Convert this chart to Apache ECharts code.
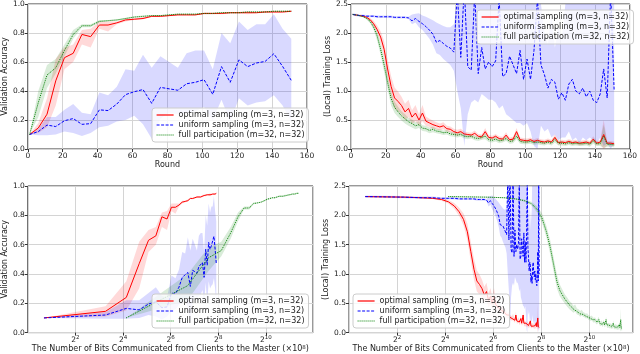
<!DOCTYPE html>
<html lang="en">
<head>
<meta charset="UTF-8">
<title>sampling curves</title>
<script src="https://cdn.jsdelivr.net/npm/echarts@6/dist/echarts.min.js"></script>
<style>html,body{margin:0;padding:0;background:#fff}</style>
</head>
<body>
<div id="main" style="width:640px;height:354px"></div>
<script>
// validation accuracy, measured every 5 rounds
var accRounds = [1, 6, 11, 16, 21, 26, 31, 36, 41, 46, 51, 56, 61, 66, 71, 76, 81, 86, 91, 96, 101, 106, 111, 116, 121, 126, 131, 136, 141, 146, 151];
var accOpt   = [0.10, 0.145, 0.24, 0.47, 0.63, 0.66, 0.79, 0.775, 0.855, 0.855, 0.87, 0.89, 0.895, 0.90, 0.915, 0.915, 0.92, 0.925, 0.925, 0.925, 0.935, 0.935, 0.935, 0.94, 0.94, 0.94, 0.94, 0.945, 0.945, 0.945, 0.95];
var accOptLo = [0.10, 0.11, 0.15, 0.30, 0.55, 0.60, 0.72, 0.70, 0.83, 0.81, 0.86, 0.88, 0.89, 0.895, 0.91, 0.91, 0.915, 0.92, 0.92, 0.92, 0.93, 0.93, 0.93, 0.935, 0.935, 0.93, 0.935, 0.94, 0.94, 0.94, 0.945];
var accOptHi = [0.10, 0.18, 0.35, 0.62, 0.70, 0.72, 0.82, 0.83, 0.88, 0.88, 0.88, 0.90, 0.90, 0.91, 0.92, 0.92, 0.925, 0.93, 0.93, 0.93, 0.94, 0.94, 0.94, 0.945, 0.945, 0.95, 0.945, 0.95, 0.95, 0.95, 0.955];
var accUni   = [0.10, 0.12, 0.165, 0.155, 0.195, 0.21, 0.17, 0.175, 0.27, 0.265, 0.31, 0.375, 0.395, 0.41, 0.315, 0.425, 0.415, 0.405, 0.45, 0.46, 0.478, 0.377, 0.568, 0.46, 0.615, 0.568, 0.593, 0.604, 0.657, 0.57, 0.473];
var accUniLo = [0.10, 0.095, 0.095, 0.10, 0.12, 0.11, 0.09, 0.11, 0.15, 0.16, 0.19, 0.20, 0.23, 0.17, 0.07, 0.21, 0.25, 0.24, 0.25, 0.26, 0.29, 0.20, 0.34, 0.19, 0.35, 0.30, 0.32, 0.33, 0.37, 0.30, 0.19];
var accUniHi = [0.10, 0.14, 0.22, 0.22, 0.27, 0.31, 0.25, 0.24, 0.39, 0.37, 0.43, 0.55, 0.54, 0.65, 0.56, 0.64, 0.60, 0.56, 0.66, 0.68, 0.68, 0.55, 0.80, 0.73, 0.88, 0.82, 0.86, 0.86, 0.93, 0.83, 0.76];
var accFull   = [0.10, 0.32, 0.51, 0.56, 0.68, 0.79, 0.85, 0.85, 0.88, 0.885, 0.89, 0.90, 0.91, 0.915, 0.92, 0.92, 0.925, 0.93, 0.93, 0.93, 0.935, 0.935, 0.94, 0.94, 0.94, 0.945, 0.945, 0.945, 0.95, 0.95, 0.95];
var accFullLo = [0.10, 0.22, 0.42, 0.52, 0.64, 0.76, 0.84, 0.84, 0.875, 0.88, 0.885, 0.895, 0.905, 0.91, 0.915, 0.915, 0.92, 0.925, 0.925, 0.925, 0.93, 0.93, 0.935, 0.935, 0.935, 0.94, 0.94, 0.94, 0.945, 0.945, 0.945];
var accFullHi = [0.10, 0.40, 0.58, 0.62, 0.72, 0.82, 0.86, 0.86, 0.89, 0.89, 0.895, 0.905, 0.915, 0.92, 0.925, 0.925, 0.93, 0.935, 0.935, 0.935, 0.94, 0.94, 0.945, 0.945, 0.945, 0.95, 0.95, 0.95, 0.955, 0.955, 0.955];

// (local) training loss, read every 2 rounds
var lossRounds = [1, 3, 5, 7, 9, 11, 13, 15, 17, 19, 21, 23, 25, 27, 29, 31, 33, 35, 37, 39,
  41, 43, 45, 47, 49, 51, 53, 55, 57, 59, 61, 63, 65, 67, 69, 71, 73, 75, 77, 79,
  81, 83, 85, 87, 89, 91, 93, 95, 97, 99, 101, 103, 105, 107, 109, 111, 113, 115, 117, 119,
  121, 123, 125, 127, 129, 131, 133, 135, 137, 139, 141, 143, 145, 147, 149, 151];
var lossOpt = [2.32, 2.31, 2.30, 2.29, 2.27, 2.23, 2.16, 2.06, 1.93, 1.72,
  1.38, 1.08, 0.88, 0.82, 0.75, 0.64, 0.70, 0.55, 0.62, 0.50,
  0.62, 0.48, 0.45, 0.42, 0.40, 0.38, 0.40, 0.35, 0.34, 0.30,
  0.28, 0.30, 0.26, 0.25, 0.24, 0.27, 0.22, 0.21, 0.30, 0.20,
  0.19, 0.22, 0.18, 0.17, 0.24, 0.16, 0.17, 0.30, 0.16, 0.15,
  0.14, 0.16, 0.13, 0.15, 0.13, 0.12, 0.14, 0.12, 0.20, 0.11,
  0.12, 0.11, 0.13, 0.11, 0.12, 0.10, 0.11, 0.12, 0.10, 0.17,
  0.10, 0.12, 0.25, 0.10, 0.10, 0.09];
var lossOptSpread = [0.01, 0.01, 0.01, 0.01, 0.02, 0.03, 0.05, 0.07, 0.10, 0.14,
  0.17, 0.18, 0.18, 0.17, 0.15, 0.14, 0.15, 0.12, 0.14, 0.10,
  0.14, 0.08, 0.07, 0.07, 0.06, 0.06, 0.06, 0.05, 0.05, 0.05,
  0.05, 0.05, 0.04, 0.04, 0.04, 0.05, 0.04, 0.04, 0.06, 0.04,
  0.04, 0.04, 0.04, 0.04, 0.05, 0.04, 0.04, 0.06, 0.04, 0.04,
  0.04, 0.04, 0.04, 0.04, 0.04, 0.04, 0.04, 0.04, 0.05, 0.04,
  0.04, 0.04, 0.04, 0.04, 0.04, 0.04, 0.04, 0.04, 0.04, 0.05,
  0.04, 0.04, 0.25, 0.04, 0.04, 0.04];
var lossFull = [2.32, 2.31, 2.30, 2.28, 2.25, 2.20, 2.10, 1.95, 1.72, 1.45,
  1.15, 0.87, 0.72, 0.64, 0.57, 0.52, 0.47, 0.44, 0.40, 0.42,
  0.36, 0.35, 0.32, 0.34, 0.31, 0.30, 0.28, 0.29, 0.26, 0.25,
  0.24, 0.25, 0.22, 0.21, 0.22, 0.19, 0.18, 0.20, 0.22, 0.16,
  0.15, 0.17, 0.14, 0.15, 0.18, 0.13, 0.14, 0.22, 0.13, 0.12,
  0.12, 0.13, 0.11, 0.12, 0.11, 0.10, 0.12, 0.10, 0.16, 0.10,
  0.10, 0.09, 0.11, 0.09, 0.10, 0.09, 0.09, 0.10, 0.08, 0.14,
  0.09, 0.09, 0.22, 0.08, 0.08, 0.07];
var lossFullSpread = [0.01, 0.01, 0.01, 0.01, 0.02, 0.03, 0.05, 0.08, 0.10, 0.12,
  0.12, 0.12, 0.10, 0.09, 0.08, 0.08, 0.07, 0.07, 0.06, 0.06,
  0.05, 0.05, 0.05, 0.05, 0.04, 0.04, 0.04, 0.04, 0.04, 0.04,
  0.04, 0.04, 0.04, 0.04, 0.04, 0.04, 0.04, 0.04, 0.05, 0.04,
  0.04, 0.04, 0.04, 0.04, 0.04, 0.04, 0.04, 0.05, 0.04, 0.04,
  0.04, 0.04, 0.04, 0.04, 0.04, 0.04, 0.04, 0.04, 0.05, 0.04,
  0.04, 0.04, 0.04, 0.04, 0.04, 0.04, 0.04, 0.04, 0.04, 0.05,
  0.04, 0.04, 0.20, 0.04, 0.04, 0.04];
var lossUni = [2.32, 2.31, 2.30, 2.30, 2.29, 2.29, 2.29, 2.28, 2.28, 2.28,
  2.28, 2.28, 2.27, 2.27, 2.27, 2.27, 2.26, 2.21, 2.25, 2.20,
  2.16, 2.11, 2.05, 1.98, 1.84, 1.87, 1.82, 1.77, 1.74, 1.67,
  2.70, 1.58, 2.80, 1.42, 1.36, 2.70, 1.30, 1.75, 1.38, 1.50,
  1.42, 1.52, 2.60, 1.25, 1.30, 1.60, 1.45, 1.30, 1.70, 1.20,
  1.55, 1.20, 1.70, 2.60, 1.45, 1.28, 1.05, 1.20, 1.15, 0.86,
  0.97, 0.84, 1.12, 1.20, 1.00, 0.95, 1.05, 0.90, 1.00, 0.84,
  0.80, 0.95, 1.38, 0.88, 2.70, 1.00];
var lossUniLo = [2.30, 2.29, 2.28, 2.28, 2.27, 2.27, 2.27, 2.26, 2.26, 2.26,
  2.26, 2.26, 2.25, 2.25, 2.25, 2.25, 2.24, 2.15, 2.18, 2.10,
  2.05, 1.98, 1.90, 1.80, 1.65, 1.62, 1.55, 1.50, 1.45, 1.35,
  1.00, 0.70, 0.05, 0.60, 0.80, 0.85, 0.80, 0.95, 0.90, 0.85,
  0.85, 0.80, 0.70, 0.75, 0.60, 0.55, 0.50, 0.45, 0.45, 0.40,
  0.45, 0.30, 0.05, 0.00, 0.40, 0.30, 0.35, 0.20, 0.25, 0.15,
  0.20, 0.20, 0.30, 0.15, 0.20, 0.10, 0.20, 0.15, 0.20, 0.15,
  0.10, 0.20, 0.05, 0.10, 0.00, 0.10];
var lossUniHi = [2.34, 2.33, 2.32, 2.32, 2.31, 2.31, 2.31, 2.30, 2.30, 2.30,
  2.30, 2.30, 2.29, 2.29, 2.29, 2.29, 2.28, 2.32, 2.33, 2.34,
  2.30, 2.28, 2.25, 2.22, 2.18, 2.15, 2.12, 2.10, 2.10, 2.15,
  2.80, 2.80, 2.80, 2.80, 2.80, 2.80, 2.80, 2.80, 2.80, 2.80,
  2.80, 2.80, 2.80, 2.80, 2.80, 2.80, 2.80, 2.80, 2.80, 2.80,
  2.80, 2.80, 2.80, 2.80, 2.80, 2.00, 1.80, 2.30, 1.75, 2.10,
  1.90, 2.80, 2.80, 2.80, 2.80, 2.80, 2.80, 2.80, 2.80, 2.80,
  2.80, 2.80, 2.80, 2.80, 2.80, 2.80];

// bits sent per round (x10^8) for each method
var bitsPerRound = [1.6, 1.6, 17.5];

var names = ['optimal sampling (m=3, n=32)', 'uniform sampling (m=3, n=32)', 'full participation (m=32, n=32)'];
var colors = ['#ff0000', '#0000ff', '#008000'];
var bandColors = ['rgba(255,0,0,0.15)', 'rgba(0,0,255,0.15)', 'rgba(0,128,0,0.15)'];
var dashes = ['solid', [3, 1.5], [1, 1]];

function minus(a, b) { return a.map(function (v, i) { return Math.max(0, v - b[i]); }); }
function plus(a, b) { return a.map(function (v, i) { return v + b[i]; }); }

var accLines = [accOpt, accUni, accFull];
var accLo = [accOptLo, accUniLo, accFullLo];
var accHi = [accOptHi, accUniHi, accFullHi];
var lossLines = [lossOpt, lossUni, lossFull];
var lossLo = [minus(lossOpt, lossOptSpread), lossUniLo, minus(lossFull, lossFullSpread)];
var lossHi = [plus(lossOpt, lossOptSpread), lossUniHi, plus(lossFull, lossFullSpread)];

// shaded band: one polygon, upper edge forward then lower edge back
function bandSeries(g, pts, color) {
  return {
    type: 'custom', name: 'band', xAxisIndex: g, yAxisIndex: g, silent: true, z: 1,
    data: pts, encode: { x: 0, y: [1, 2] },
    renderItem: function (params, api) {
      if (params.dataIndexInside !== 0) return null;
      var poly = [], i;
      for (i = 0; i < pts.length; i++) poly.push(api.coord([pts[i][0], pts[i][2]]));
      for (i = pts.length - 1; i >= 0; i--) poly.push(api.coord([pts[i][0], pts[i][1]]));
      var r = params.coordSys;
      poly = echarts.graphic.clipPointsByRect(poly, { x: r.x, y: r.y, width: r.width, height: r.height });
      return { type: 'polygon', shape: { points: poly }, style: { fill: color } };
    }
  };
}

var series = [];
function addPlot(g, xs, lines, los, his, useBits) {
  var s, k;
  for (s = 0; s < 3; s++) {
    k = useBits ? bitsPerRound[s] : 1;
    series.push(bandSeries(g, xs.map(function (x, i) { return [x * k, los[s][i], his[s][i]]; }), bandColors[s]));
  }
  for (s = 0; s < 3; s++) {
    k = useBits ? bitsPerRound[s] : 1;
    series.push({
      type: 'line', name: names[s], xAxisIndex: g, yAxisIndex: g, symbol: 'none', z: 3,
      lineStyle: { color: colors[s], width: 1, type: dashes[s] },
      itemStyle: { color: colors[s] },
      data: xs.map(function (x, i) { return [x * k, lines[s][i]]; })
    });
  }
}
addPlot(0, accRounds, accLines, accLo, accHi, false);
addPlot(1, lossRounds, lossLines, lossLo, lossHi, false);
addPlot(2, accRounds, accLines, accLo, accHi, true);
addPlot(3, lossRounds, lossLines, lossLo, lossHi, true);

var txt = '#222';
var gridLine = { lineStyle: { color: '#d4d4d4', width: 1 } };
var tick = { show: true, length: 3, lineStyle: { color: '#333' } };
var bitsName = 'The Number of Bits Communicated from Clients to the Master (\u00d710{sup|8})';

function roundAxis(g) {
  return {
    type: 'value', gridIndex: g, min: 0, max: 160, interval: 20,
    name: 'Round', nameLocation: 'middle', nameGap: 10,
    nameTextStyle: { fontSize: 8, color: txt },
    axisLine: { show: false }, axisTick: tick, splitLine: gridLine,
    axisLabel: { fontSize: 7.5, color: txt, margin: 3 }
  };
}
function bitsAxis(g, max) {
  return {
    type: 'log', logBase: 2, gridIndex: g, min: 1, max: max, interval: 2,
    name: bitsName, nameLocation: 'middle', nameGap: 11,
    nameTextStyle: { fontSize: 8, color: txt, rich: { sup: { fontSize: 5.5, lineHeight: 6, verticalAlign: 'top', color: txt } } },
    axisLine: { show: false }, axisTick: tick, splitLine: gridLine,
    axisLabel: {
      showMinLabel: false, showMaxLabel: false, margin: 2,
      formatter: function (v) { return '{b|2}{s|' + Math.round(Math.log(v) / Math.LN2) + '}'; },
      rich: {
        b: { fontSize: 7.5, lineHeight: 11, color: txt },
        s: { fontSize: 5.5, lineHeight: 6, verticalAlign: 'top', color: txt }
      }
    }
  };
}
function valAxis(g, max, interval, name, gap) {
  return {
    type: 'value', gridIndex: g, min: 0, max: max, interval: interval,
    name: name, nameLocation: 'middle', nameGap: gap,
    nameTextStyle: { fontSize: 8, color: txt },
    axisLine: { show: false }, axisTick: tick, splitLine: gridLine,
    axisLabel: { fontSize: 7.5, color: txt, margin: 3, formatter: function (v) { return v.toFixed(1); } }
  };
}
function legendAt(left, top) {
  return {
    left: left, top: top, orient: 'vertical', data: names, selectedMode: false,
    itemWidth: 17, itemHeight: 8, itemGap: 2, padding: [3, 4, 3, 4],
    itemStyle: { opacity: 0 }, lineStyle: { width: 1.2 },
    backgroundColor: 'rgba(255,255,255,0.8)', borderColor: '#cccccc', borderWidth: 1, borderRadius: 3,
    textStyle: { fontSize: 8, color: txt }
  };
}
var frame = { show: true, borderColor: '#333', borderWidth: 1, backgroundColor: 'transparent' };

var chart = echarts.init(document.getElementById('main'));
chart.setOption({
  animation: false,
  backgroundColor: '#fff',
  textStyle: { fontFamily: 'DejaVu Sans' },
  grid: [
    Object.assign({ left: 27, top: 3, width: 280, height: 146 }, frame),
    Object.assign({ left: 351, top: 3, width: 281, height: 146 }, frame),
    Object.assign({ left: 26, top: 186, width: 287, height: 149 }, frame),
    Object.assign({ left: 349, top: 186, width: 284, height: 149 }, frame)
  ],
  xAxis: [roundAxis(0), roundAxis(1), bitsAxis(2, 4040), bitsAxis(3, 3615)],
  yAxis: [
    valAxis(0, 1, 0.2, 'Validation Accuracy', 16),
    valAxis(1, 2.5, 0.5, '(Local) Training Loss', 17),
    valAxis(2, 1, 0.2, 'Validation Accuracy', 16),
    valAxis(3, 2.5, 0.5, '(Local) Training Loss', 17)
  ],
  legend: [legendAt(152, 108), legendAt(477, 10), legendAt(152, 294), legendAt(353, 294)],
  series: series
});
</script>
</body>
</html>
